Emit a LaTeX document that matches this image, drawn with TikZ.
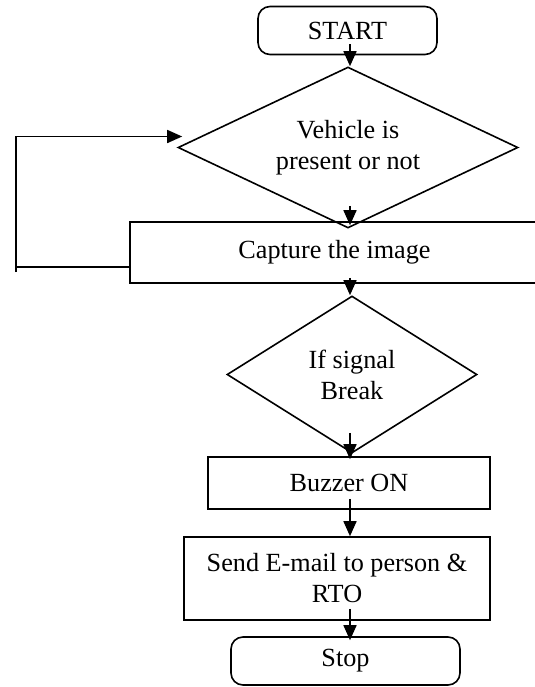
\documentclass[tikz,border=0pt]{standalone}
\usepackage{fontspec}
\setmainfont{Liberation Serif}
\usetikzlibrary{arrows.meta, positioning, shapes.geometric}

\begin{document}
\begin{tikzpicture}[x=0.5pt, y=-0.5pt, line width=0.8pt,
    every node/.style={font=\fontsize{13.1}{15.5}\selectfont, align=center, inner sep=0pt},
    terminal/.style={draw, rounded corners=6pt, minimum width=#1, minimum height=24pt},
    process/.style={draw, rectangle},
    decision/.style={draw, diamond, aspect=2},
    arr/.style={-{Triangle[length=7.5pt, width=6.5pt]}}]
    \useasboundingbox (0,0) rectangle (535,687);
    \coordinate (spine) at (350,0);

    % start and the first test
    \node[terminal=89.5pt] (start) at (347.5,30.5) {START};
    \node[decision, minimum width=170pt, minimum height=80.5pt] (veh) at (348,147.5) {Vehicle is\\present or not};
    \node[process, minimum width=204.5pt, minimum height=30.5pt] (cap) at (334.5,252.5) {Capture the image};

    % signal test and what follows
    \node[decision, aspect=1.6, minimum width=125pt, minimum height=78.5pt] (sig) at (352,374.5) {If signal\\Break};
    \node[process, minimum width=141pt, minimum height=26pt] (buzz) at (349,483) {Buzzer ON};
    \node[process, minimum width=153pt, minimum height=41.5pt] (mail) at (337,578.5) {Send E-mail to person \&\\RTO};
    \node[terminal=114.5pt] (stop) at (345.5,661) {Stop};

    % arrows down the middle
    \draw[arr] ([yshift=5.5pt]start.south -| spine) -- (veh.north -| spine);
    \draw[arr] ([yshift=11.5pt]veh.south -| spine) -- ([yshift=-2pt]cap.north -| spine);
    \draw[arr] ([yshift=3pt]cap.south -| spine) -- (sig.north -| spine);
    \draw[arr] ([yshift=10.5pt]sig.south -| spine) -- ([yshift=-1.5pt]buzz.north -| spine);
    \draw[arr] ([yshift=5.5pt]buzz.south -| spine) -- (mail.north -| spine);
    \draw[arr] ([yshift=6pt]mail.south -| spine) -- ([yshift=-2pt]stop.north -| spine);

    % loop back to the vehicle test
    \coordinate (loop) at (16,272);
    \draw ([yshift=-7.25pt]cap.west) -- ([yshift=-7.25pt]cap.west -| loop);
    \draw[arr] (loop) |- ([shift={(2.5pt,5.5pt)}]veh.west);
\end{tikzpicture}
\end{document}
